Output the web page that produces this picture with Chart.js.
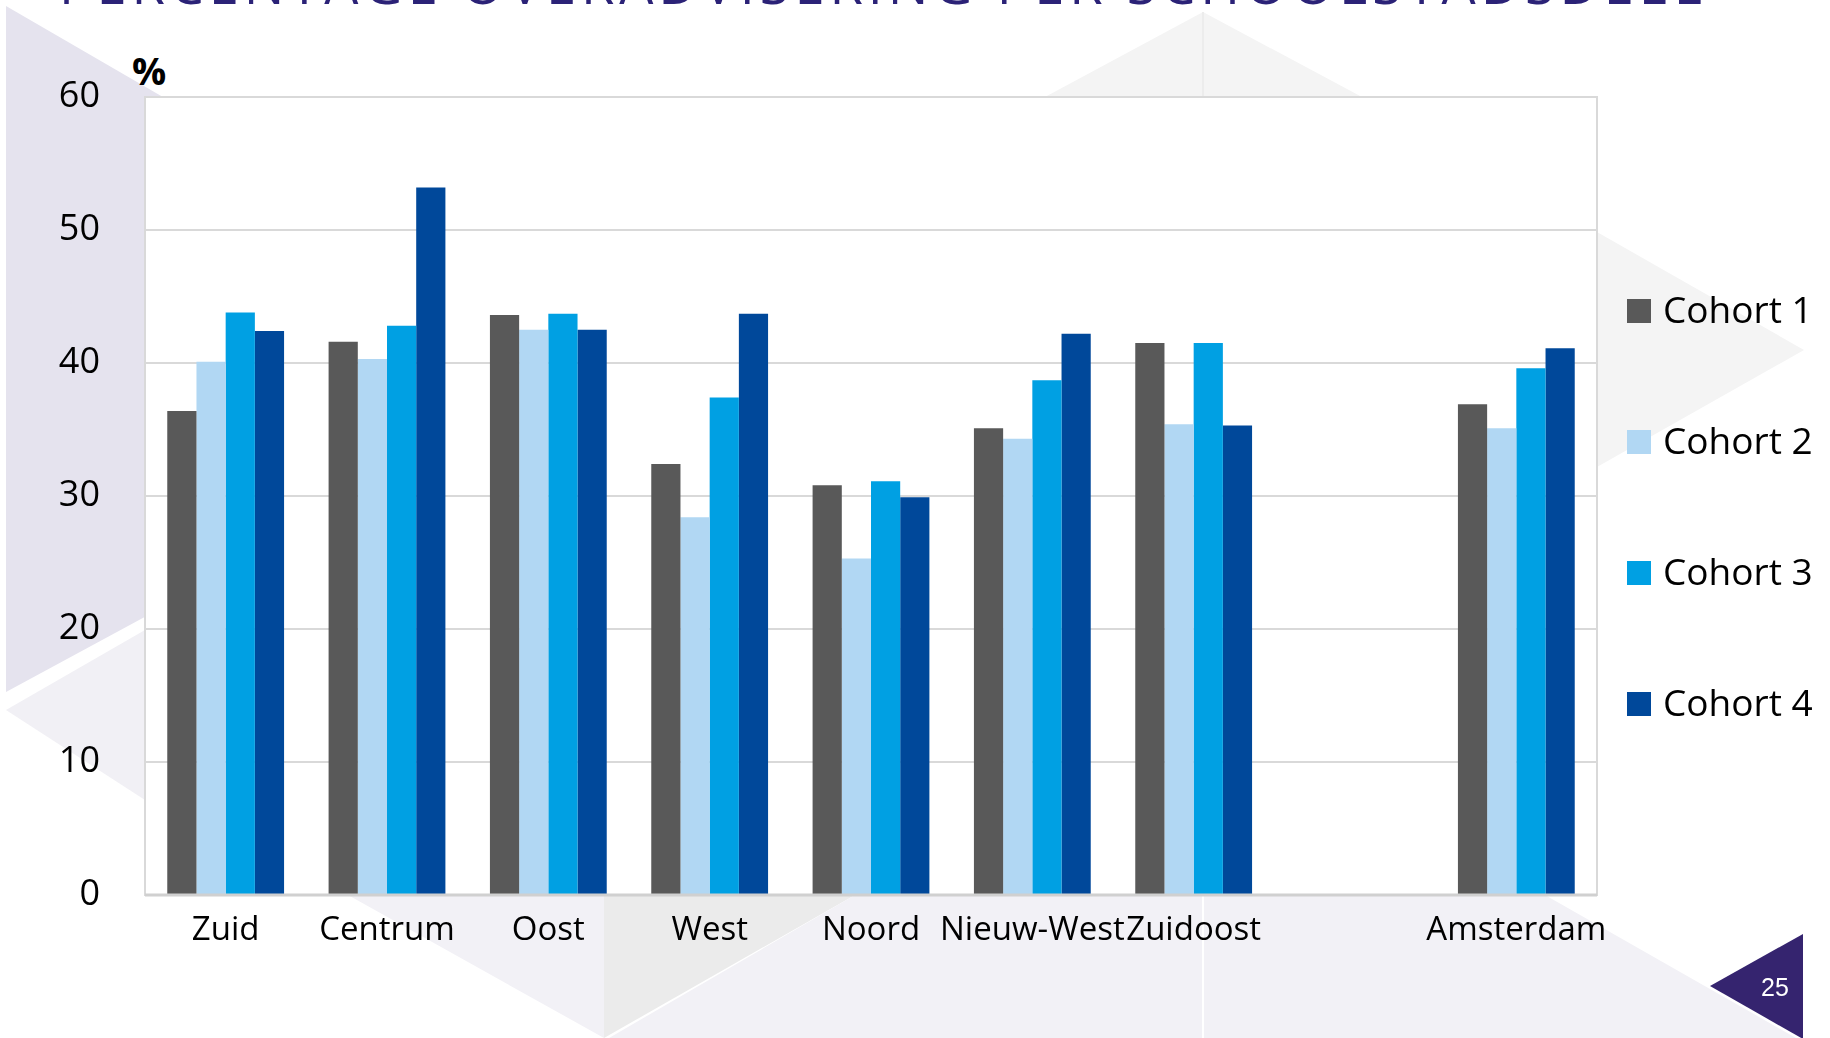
<!DOCTYPE html>
<html>
<head>
<meta charset="utf-8">
<script src="https://cdn.jsdelivr.net/npm/chart.js@4.4.1/dist/chart.umd.min.js"></script>
<style>
  html, body { margin: 0; padding: 0; background: #fff; }
  #slide { position: relative; width: 1830px; height: 1038px; overflow: hidden; background: #fff; }
  #bg { position: absolute; left: 0; top: 0; }
  #title {
    position: absolute; left: 59px; top: -44px; white-space: nowrap;
    font-family: 'Open Sans', sans-serif; font-size: 54px; line-height: 54px;
    color: #2b2277; letter-spacing: 5px;
  }
  #pct { position: absolute; left: 132px; top: 44px; font-family: 'Open Sans', sans-serif; font-weight: bold; font-size: 38px; color: #000; }
  #chart { position: absolute; left: 0; top: 0; }
  #page { position: absolute; left: 1761px; top: 973px; font-family: 'Liberation Sans', Arial, sans-serif; font-size: 25px; color: #fff; }
</style>
</head>
<body>
<div id="slide">
  <svg id="bg" width="1830" height="1038">
    <polygon points="6,6 618,361 6,692" fill="#e5e3ee"/>
    <polygon points="6,710 145,630 145,800" fill="#f1f0f5"/>
    <polygon points="1045,97 1203,12 1362,97" fill="#f4f4f4"/>
    <line x1="1203" y1="12" x2="1203" y2="97" stroke="#ececec" stroke-width="2"/>
    <polygon points="1597,232 1804,350 1597,467" fill="#f4f4f4"/>
    <polygon points="348,895 604,895 604,1038" fill="#f2f1f6"/>
    <polygon points="604,895 855,895 604,1038" fill="#ebebeb"/>
    <polygon points="855,895 1545,895 1796,1038 609,1038" fill="#f2f1f6"/>
    <line x1="1203" y1="895" x2="1203" y2="1038" stroke="#ffffff" stroke-width="2"/>
    <polygon points="1710,986 1803,934 1803,1039" fill="#35246f"/>
  </svg>
  <div id="title">PERCENTAGE OVERADVISERING PER SCHOOLSTADSDEEL</div>
  <div id="pct">%</div>
  <canvas id="chart" width="1830" height="1038"></canvas>
  <div id="page">25</div>
</div>
<script>
  // categories (empty slot before Amsterdam, as in the original)
  const districts = ['Zuid', 'Centrum', 'Oost', 'West', 'Noord', 'Nieuw-West', 'Zuidoost', '', 'Amsterdam'];
  const seriesNames = ['Cohort 1', 'Cohort 2', 'Cohort 3', 'Cohort 4'];
  const cohort1 = [36.4, 41.6, 43.6, 32.4, 30.8, 35.1, 41.5, null, 36.9];
  const cohort2 = [40.1, 40.3, 42.5, 28.4, 25.3, 34.3, 35.4, null, 35.1];
  const cohort3 = [43.8, 42.8, 43.7, 37.4, 31.1, 38.7, 41.5, null, 39.6];
  const cohort4 = [42.4, 53.2, 42.5, 43.7, 29.9, 42.2, 35.3, null, 41.1];
  const colors = ['#595959', '#b1d7f3', '#00a0e3', '#00489a'];
  const yTicks = [0, 10, 20, 30, 40, 50, 60];

  const FONT = "'Open Sans', sans-serif";

  // white plot background plus the thin grey frame
  const plotFrame = {
    id: 'plotFrame',
    beforeDraw(chart) {
      const a = chart.chartArea, ctx = chart.ctx;
      ctx.save();
      ctx.fillStyle = '#ffffff';
      ctx.fillRect(a.left, a.top, a.right - a.left, a.bottom - a.top);
      ctx.restore();
    },
    afterDraw(chart) {
      const a = chart.chartArea, ctx = chart.ctx;
      ctx.save();
      ctx.strokeStyle = '#d9d9d9';
      ctx.lineWidth = 2;
      ctx.strokeRect(a.left, a.top, a.right - a.left, a.bottom - a.top);
      ctx.strokeStyle = '#d0d0d0';
      ctx.lineWidth = 3;
      ctx.beginPath();
      ctx.moveTo(a.left, a.bottom);
      ctx.lineTo(a.right, a.bottom);
      ctx.stroke();
      ctx.restore();
    }
  };

  // legend on the right, spread out like the slide
  const sideLegend = {
    id: 'sideLegend',
    afterDraw(chart) {
      const ctx = chart.ctx;
      ctx.save();
      ctx.font = '37px ' + FONT;
      ctx.textBaseline = 'middle';
      chart.data.datasets.forEach((ds, i) => {
        const cy = 311 + i * 131;
        ctx.fillStyle = ds.backgroundColor;
        ctx.fillRect(1627, cy - 12, 24, 24);
        ctx.fillStyle = '#000';
        ctx.fillText(ds.label, 1663, cy + 1);
      });
      ctx.restore();
    }
  };

  const allSeries = [cohort1, cohort2, cohort3, cohort4];

  new Chart(document.getElementById('chart'), {
    type: 'bar',
    data: {
      labels: districts,
      datasets: allSeries.map((vals, i) => ({
        label: seriesNames[i],
        data: vals,
        backgroundColor: colors[i],
        borderWidth: 0,
        barPercentage: 1.0,
        categoryPercentage: 0.724
      }))
    },
    options: {
      responsive: false,
      animation: false,
      devicePixelRatio: 1,
      layout: { padding: { top: 97, left: 0, right: 233, bottom: 0 } },
      plugins: {
        legend: { display: false },
        tooltip: { enabled: false }
      },
      scales: {
        x: {
          grid: { display: false, drawTicks: false },
          border: { display: false },
          ticks: { color: '#000', font: { family: FONT, size: 33 }, padding: 16, autoSkip: false, maxRotation: 0 },
          afterFit(scale) { scale.height = 143; }
        },
        y: {
          min: 0,
          max: 60,
          afterBuildTicks(scale) { scale.ticks = yTicks.map(v => ({ value: v })); },
          grid: { color: '#d9d9d9', lineWidth: 2, drawTicks: false },
          border: { display: false },
          ticks: { color: '#000', font: { family: FONT, size: 36 }, padding: 45 },
          afterFit(scale) { scale.width = 145; }
        }
      }
    },
    plugins: [plotFrame, sideLegend]
  });
</script>
</body>
</html>
